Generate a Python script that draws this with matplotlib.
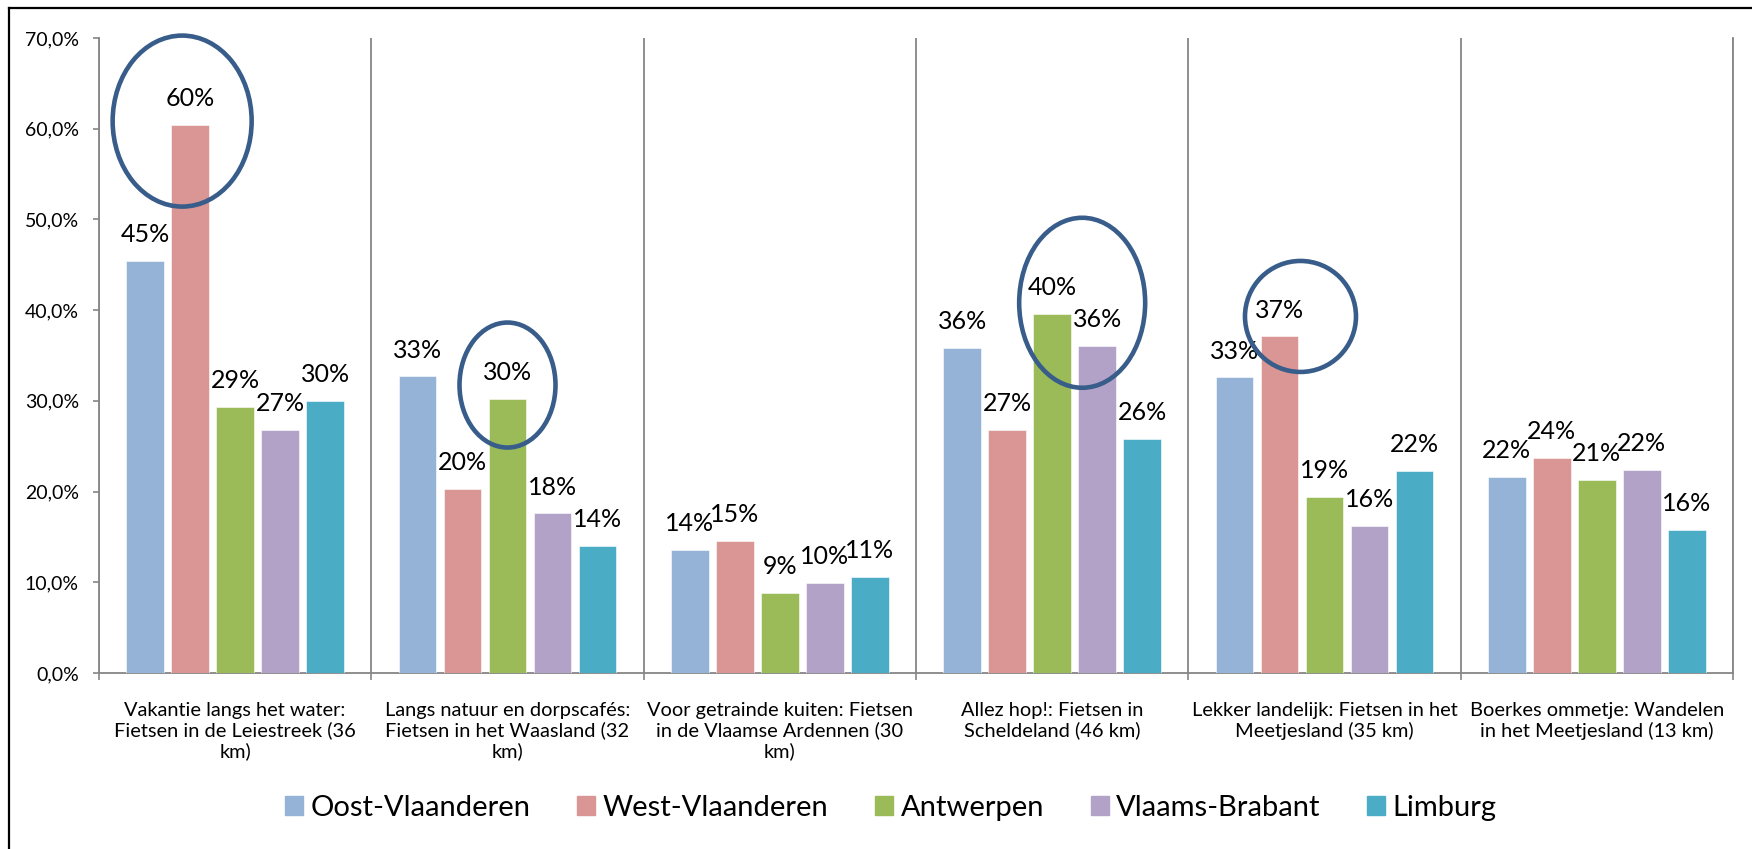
import matplotlib
matplotlib.use("Agg")
import matplotlib.pyplot as plt
import numpy as np
from matplotlib.patches import Ellipse
from matplotlib.lines import Line2D
import matplotlib.transforms as mtransforms

# ---------------- data ----------------
categories = [
    "Vakantie langs het water:\nFietsen in de Leiestreek (36\nkm)",
    "Langs natuur en dorpscafés:\nFietsen in het Waasland (32\nkm)",
    "Voor getrainde kuiten: Fietsen\nin de Vlaamse Ardennen (30\nkm)",
    "Allez hop!: Fietsen in\nScheldeland (46 km)",
    "Lekker landelijk: Fietsen in het\nMeetjesland (35 km)",
    "Boerkes ommetje: Wandelen\nin het Meetjesland (13 km)",
]
series_names = ["Oost-Vlaanderen", "West-Vlaanderen", "Antwerpen", "Vlaams-Brabant", "Limburg"]
oost_vlaanderen = [45.4, 32.7, 13.6, 35.8, 32.6, 21.6]
west_vlaanderen = [60.4, 20.3, 14.6, 26.8, 37.1, 23.7]
antwerpen = [29.3, 30.2, 8.8, 39.6, 19.4, 21.3]
vlaams_brabant = [26.8, 17.6, 9.9, 36.1, 16.2, 22.4]
limburg = [30.0, 14.0, 10.6, 25.8, 22.3, 15.8]
series_values = [oost_vlaanderen, west_vlaanderen, antwerpen, vlaams_brabant, limburg]
y_ticks = [0, 10, 20, 30, 40, 50, 60, 70]

# highlighted bars (group index, series index)
highlights = [(0, 1), (1, 2), (3, 2), (4, 1)]

# ---------------- style ----------------
colors = ["#95B3D7", "#D99694", "#9BBB59", "#B3A2C7", "#4BACC6"]
axis_gray = "#868686"
ellipse_color = "#385D8A"
FONT = ["Lato", "DejaVu Sans"]
plt.rcParams["font.family"] = FONT

W, H, DPI = 1752, 849, 100
fig = plt.figure(figsize=(W / DPI, H / DPI), dpi=DPI)
fig.patch.set_facecolor("white")

x0, x1 = 99, 1733
y_top, y_bot = 38, 673
ax = fig.add_axes([x0 / W, 1 - y_bot / H, (x1 - x0) / W, (y_bot - y_top) / H])

n_groups = len(categories)
n_series = len(series_values)
pitch = 0.1653
bar_w = 0.1377
xs = np.arange(n_groups)

for i, (vals, name, col) in enumerate(zip(series_values, series_names, colors)):
    off = (i - (n_series - 1) / 2) * pitch
    ax.bar(xs + off, vals, width=bar_w, color=col, label=name, zorder=3,
           edgecolor="white", linewidth=0.4)
    for xi, v in zip(xs + off, vals):
        ax.annotate(f"{round(v):d}%", xy=(xi, v), xytext=(0, 13.5), textcoords="offset points",
                    ha="center", va="baseline", fontsize=18, color="black", zorder=5)

ax.set_xlim(-0.5, n_groups - 0.5)
ax.set_ylim(0, 70)
ax.set_yticks(y_ticks)
ax.set_yticklabels([f"{t:.1f}%".replace(".", ",") for t in y_ticks])

ax.set_xticks(xs)
ax.set_xticklabels(categories, fontsize=14.4, linespacing=1.16)
ax.set_xticks(np.arange(n_groups + 1) - 0.5, minor=True)
ax.tick_params(axis="x", which="major", length=0, pad=21)
ax.tick_params(axis="x", which="minor", length=5, width=1.2, color=axis_gray, direction="out")
ax.tick_params(axis="y", length=4.5, width=1.2, color=axis_gray, direction="out",
               labelsize=14, pad=10)
ax.grid(axis="x", which="minor", color=axis_gray, linewidth=1.3, zorder=1)
ax.grid(axis="x", which="major", visible=False)

ax.spines["top"].set_visible(False)
for s in ["left", "bottom", "right"]:
    ax.spines[s].set_color(axis_gray)
    ax.spines[s].set_linewidth(1.3)

# highlight ellipses (pixel sizes relative to the bar top)
ell_style = [(-8, 4, 139, 171), (0, 14, 96, 125), (30, 11, 126, 170), (21, 20, 111, 111)]
for (g, s), (dx, dy, ew, eh) in zip(highlights, ell_style):
    off = (s - (n_series - 1) / 2) * pitch
    tr = fig.dpi_scale_trans + mtransforms.ScaledTranslation(g + off, series_values[s][g], ax.transData)
    e = Ellipse((dx / DPI, dy / DPI), ew / DPI, eh / DPI, transform=tr, fill=False,
                edgecolor=ellipse_color, linewidth=3.3, zorder=6, clip_on=False)
    ax.add_patch(e)

# legend
handles = [plt.Rectangle((0, 0), 1, 1, color=c) for c in colors]
fig.legend(handles, series_names, loc="center", bbox_to_anchor=(891 / W, 1 - 808 / H),
           ncol=5, frameon=False, fontsize=21, handlelength=0.62, handleheight=0.62,
           handletextpad=0.25, columnspacing=1.6)

# outer chart border (left and top visible)
bx, by = 9 / W, 1 - 8 / H
fig.add_artist(Line2D([bx, bx], [0, by], color="black", linewidth=1.6, transform=fig.transFigure))
fig.add_artist(Line2D([bx, 1], [by, by], color="black", linewidth=1.6, transform=fig.transFigure))

fig.savefig("out.png", dpi=DPI, facecolor="white")
